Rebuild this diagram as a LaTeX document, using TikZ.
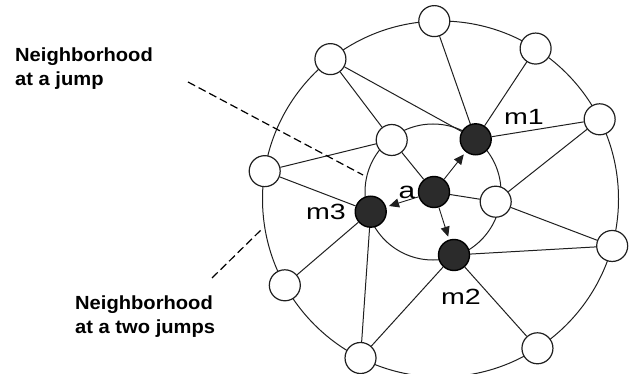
\documentclass[tikz,border=0pt]{standalone}
\usepackage{fontspec}
\setmainfont{Liberation Sans}
\newfontfamily\labelfont[FakeStretch=1.3]{Liberation Sans}
\newfontfamily\captionfont[FakeStretch=1.06]{Liberation Sans}
\usetikzlibrary{arrows.meta}

\begin{document}
\begin{tikzpicture}[x=1pt,y=1pt,
  wire/.style={line width=1pt, draw=black!88},
  hop/.style={circle, minimum size=31pt, inner sep=0pt, draw=black!88, line width=1.2pt, fill=white},
  hub/.style={circle, minimum size=31pt, inner sep=0pt, draw=black, line width=1.4pt, fill=black!83},
  probe/.style={line width=0.9pt, draw=black!88, -{Triangle[length=10pt,width=9pt]}, shorten >=3pt},
  guide/.style={line width=1.2pt, draw=black, dash pattern=on 8pt off 4pt},
  caption/.style={font=\captionfont\bfseries\fontsize{19}{24}\selectfont, align=left, anchor=north west, inner sep=0pt},
  tag/.style={font=\labelfont\fontsize{22}{26}\selectfont, anchor=base, inner sep=0pt}
]
\useasboundingbox (0,0) rectangle (629,-374);

% centres of the two neighbourhood rings
\coordinate (O) at (440.5,-199);
\coordinate (I) at (433,-192);
\draw[wire] (O) circle[radius=178pt];
\draw[wire] (I) circle[radius=68pt];

% nodes two jumps away, on the outer ring
\foreach \n/\ang in {o1/92, o2/57.7, o3/26.6, o4/-15.3, o5/-57, o6/-116.7, o7/209, o8/171, o9/128.2}
  \node[hop] (\n) at ([shift={(\ang:178pt)}]O) {};

% nodes one jump away, on the inner ring
\node[hop] (ul) at (391.7,-140) {};
\node[hop] (ri) at (495.7,-201.7) {};
\node[hub] (m1) at (475.7,-139.3) {};
\node[hub] (m2) at (454,-255) {};
\node[hub] (m3) at (370.7,-211.7) {};
\node[hub] (a) at (434,-192) {};

% links
\draw[wire] (o9) -- (m1);
\draw[wire] (o1) -- (m1);
\draw[wire] (o2) -- (m1);
\draw[wire] (o3) -- (m1);
\draw[wire] (o3) -- (ri);
\draw[wire] (o9) -- (ul);
\draw[wire] (o8) -- (ul);
\draw[wire] (o8) -- (m3);
\draw[wire] (ul) -- (a);
\draw[wire] (a) -- (ri);
\draw[wire] (ri) -- (o4);
\draw[wire] (m2) -- (o4);
\draw[wire] (m2) -- (o5);
\draw[wire] (m2) -- (o6);
\draw[wire] (m3) -- (o6);
\draw[wire] (m3) -- (o7);

% messages sent from a
\draw[probe] (a) -- (m1);
\draw[probe] (a) -- (m3);
\draw[probe] (a) -- (m2);

% node labels
\node[tag] (t1) at (524,-125) {m1};
\node[tag] (t2) at (461,-304) {m2};
\node[tag] (t3) at (326,-220) {m3};
\node[tag, font=\labelfont\fontsize{23}{26}\selectfont] (ta) at (407,-199) {a};

% captions and their pointers
\node[caption] (c1) at (15,-48) {Neighborhood\\at a jump};
\node[caption] (c2) at (75,-296) {Neighborhood\\at a two jumps};
\coordinate (d1s) at (188,-82);
\coordinate (d1e) at (363,-175);
\coordinate (d2s) at (212,-278);
\coordinate (d2e) at (263,-228);
\draw[guide] (d1s) -- (d1e);
\draw[guide] (d2s) -- (d2e);
\end{tikzpicture}
\end{document}
